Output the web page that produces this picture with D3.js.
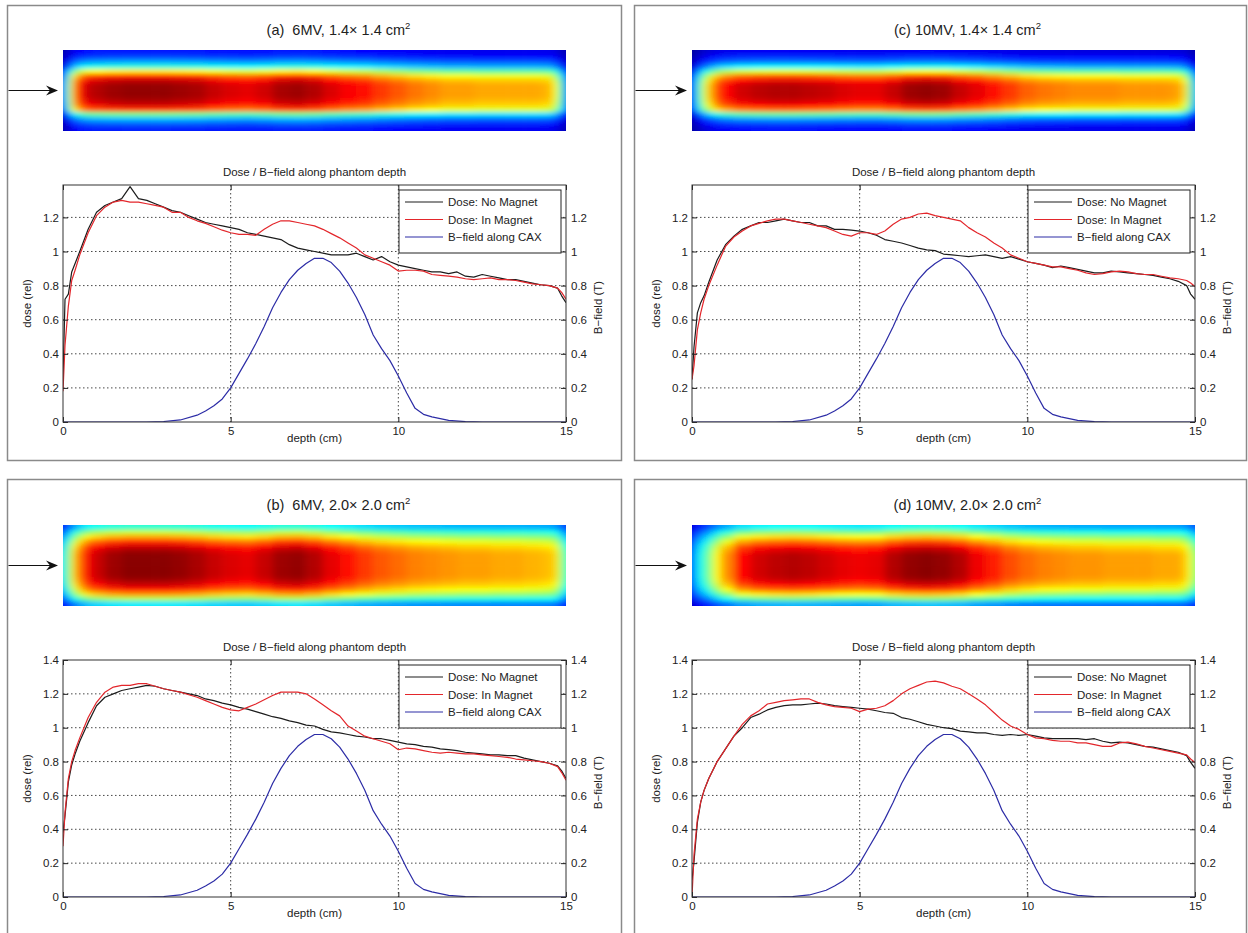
<!DOCTYPE html>
<html lang="en">
<head>
<meta charset="UTF-8">
<title>Dose / B-field along phantom depth</title>
<script src="https://cdnjs.cloudflare.com/ajax/libs/d3/7.9.0/d3.min.js"></script>
<style>
  body { margin: 0; background: #fff; }
  svg text { font-family: "Liberation Sans", Arial, sans-serif; fill: #222; }
</style>
</head>
<body>
<svg id="chart" width="1248" height="933"></svg>
<script>
// depth samples (cm) of the measured dose curves
const depth = [0, 0.06, 0.16, 0.26, 0.36, 0.5,
  0.75, 1, 1.25, 1.5, 1.75, 2, 2.25, 2.5, 2.75, 3,
  3.25, 3.5, 3.75, 4, 4.25, 4.5, 4.75, 5, 5.25, 5.5,
  5.75, 6, 6.25, 6.5, 6.75, 7, 7.25, 7.5, 7.75, 8,
  8.25, 8.5, 8.75, 9, 9.25, 9.5, 9.75, 10, 10.25, 10.5,
  10.75, 11, 11.25, 11.5, 11.75, 12, 12.25, 12.5, 12.75, 13,
  13.25, 13.5, 13.75, 14, 14.25, 14.5, 14.75,
  14.87, 15];

// (a) 6MV 1.4x1.4
const noMagnetA = [0.25, 0.72, 0.75, 0.88, 0.93, 1.00,
  1.13, 1.23, 1.27, 1.29, 1.31, 1.38, 1.31, 1.30, 1.28, 1.26,
  1.24, 1.23, 1.21, 1.19, 1.17, 1.16, 1.15, 1.14, 1.13, 1.11,
  1.10, 1.09, 1.08, 1.07, 1.04, 1.02, 1.01, 1.00, 0.99, 0.98,
  0.98, 0.98, 0.99, 0.97, 0.95, 0.97, 0.94, 0.92, 0.91, 0.90,
  0.89, 0.88, 0.88, 0.87, 0.88, 0.855, 0.85, 0.865, 0.855, 0.845,
  0.835, 0.835, 0.825, 0.815, 0.805, 0.80, 0.785,
  0.74, 0.70];
const inMagnetA = [0.18, 0.45, 0.68, 0.83, 0.89, 0.98,
  1.11, 1.21, 1.26, 1.29, 1.30, 1.29, 1.29, 1.28, 1.27, 1.26,
  1.23, 1.23, 1.20, 1.18, 1.165, 1.145, 1.125, 1.11, 1.10, 1.10,
  1.095, 1.13, 1.16, 1.18, 1.18, 1.17, 1.16, 1.15, 1.13, 1.105,
  1.08, 1.05, 1.02, 0.98, 0.96, 0.94, 0.92, 0.885, 0.89, 0.89,
  0.885, 0.865, 0.86, 0.855, 0.85, 0.84, 0.835, 0.84, 0.845, 0.835,
  0.835, 0.83, 0.82, 0.81, 0.805, 0.80, 0.785,
  0.76, 0.72];

// (b) 6MV 2.0x2.0
const noMagnetB = [0.38, 0.48, 0.68, 0.78, 0.845, 0.92,
  1.03, 1.13, 1.18, 1.20, 1.22, 1.23, 1.24, 1.25, 1.245, 1.23,
  1.22, 1.21, 1.20, 1.19, 1.17, 1.16, 1.145, 1.135, 1.12, 1.11,
  1.095, 1.08, 1.065, 1.055, 1.04, 1.03, 1.015, 1.01, 0.99, 0.975,
  0.97, 0.96, 0.95, 0.945, 0.935, 0.935, 0.925, 0.915, 0.905, 0.90,
  0.89, 0.885, 0.875, 0.87, 0.865, 0.855, 0.85, 0.845, 0.84, 0.84,
  0.835, 0.835, 0.82, 0.81, 0.80, 0.79, 0.775,
  0.745, 0.70];
const inMagnetB = [0.30, 0.50, 0.70, 0.80, 0.865, 0.94,
  1.06, 1.15, 1.21, 1.24, 1.25, 1.25, 1.26, 1.26, 1.245, 1.23,
  1.22, 1.21, 1.195, 1.18, 1.16, 1.14, 1.12, 1.105, 1.10, 1.12,
  1.14, 1.165, 1.19, 1.21, 1.21, 1.21, 1.20, 1.17, 1.135, 1.10,
  1.07, 1.01, 0.98, 0.95, 0.935, 0.92, 0.905, 0.87, 0.88, 0.875,
  0.865, 0.855, 0.85, 0.855, 0.85, 0.845, 0.845, 0.84, 0.835, 0.83,
  0.825, 0.815, 0.81, 0.805, 0.80, 0.79, 0.77,
  0.735, 0.69];

// (c) 10MV 1.4x1.4
const noMagnetC = [0.25, 0.44, 0.64, 0.70, 0.74, 0.82,
  0.95, 1.04, 1.09, 1.13, 1.15, 1.17, 1.17, 1.18, 1.19, 1.18,
  1.17, 1.17, 1.15, 1.15, 1.13, 1.13, 1.125, 1.12, 1.11, 1.095,
  1.07, 1.06, 1.05, 1.035, 1.02, 1.01, 1.005, 0.985, 0.98, 0.975,
  0.97, 0.975, 0.98, 0.97, 0.96, 0.97, 0.955, 0.94, 0.93, 0.92,
  0.905, 0.915, 0.905, 0.895, 0.885, 0.875, 0.875, 0.885, 0.88, 0.875,
  0.87, 0.865, 0.86, 0.85, 0.84, 0.825, 0.80,
  0.75, 0.72];
const inMagnetC = [0.25, 0.33, 0.54, 0.64, 0.72, 0.80,
  0.92, 1.03, 1.085, 1.12, 1.15, 1.165, 1.18, 1.19, 1.19, 1.18,
  1.17, 1.16, 1.15, 1.14, 1.12, 1.10, 1.09, 1.11, 1.11, 1.10,
  1.12, 1.16, 1.19, 1.20, 1.22, 1.225, 1.21, 1.20, 1.19, 1.18,
  1.14, 1.11, 1.085, 1.05, 1.02, 0.98, 0.96, 0.94, 0.93, 0.92,
  0.91, 0.91, 0.90, 0.89, 0.875, 0.865, 0.87, 0.88, 0.885, 0.88,
  0.87, 0.865, 0.865, 0.855, 0.845, 0.84, 0.83,
  0.815, 0.795];

// (d) 10MV 2.0x2.0
const noMagnetD = [0.10, 0.21, 0.44, 0.56, 0.63, 0.70,
  0.80, 0.875, 0.95, 1.00, 1.06, 1.08, 1.105, 1.12, 1.13, 1.135,
  1.135, 1.14, 1.145, 1.14, 1.13, 1.125, 1.12, 1.115, 1.11, 1.10,
  1.09, 1.085, 1.06, 1.05, 1.035, 1.02, 1.01, 1.00, 0.995, 0.98,
  0.975, 0.97, 0.97, 0.96, 0.955, 0.96, 0.955, 0.96, 0.95, 0.94,
  0.935, 0.935, 0.935, 0.935, 0.93, 0.935, 0.92, 0.91, 0.915, 0.91,
  0.90, 0.89, 0.885, 0.875, 0.865, 0.855, 0.835,
  0.795, 0.76];
const inMagnetD = [0.0, 0.25, 0.46, 0.56, 0.63, 0.70,
  0.80, 0.875, 0.95, 1.02, 1.07, 1.10, 1.14, 1.15, 1.16, 1.165,
  1.17, 1.17, 1.15, 1.135, 1.125, 1.12, 1.115, 1.095, 1.11, 1.115,
  1.13, 1.16, 1.20, 1.23, 1.25, 1.27, 1.275, 1.265, 1.245, 1.23,
  1.20, 1.17, 1.135, 1.09, 1.045, 1.01, 0.99, 0.96, 0.94, 0.935,
  0.925, 0.92, 0.92, 0.91, 0.91, 0.90, 0.89, 0.89, 0.91, 0.915,
  0.905, 0.89, 0.88, 0.87, 0.86, 0.85, 0.84,
  0.815, 0.795];

// magnetic field along the central axis (T), same in every panel
const bDepth = [0, 2.5, 3.0, 3.5, 4.0,
  4.25, 4.5, 4.75, 5.0, 5.25, 5.5, 5.75, 6.0, 6.25, 6.5, 6.75, 7.0, 7.25, 7.5,
  7.75, 8.0, 8.25, 8.5, 8.75, 9.0, 9.25, 9.5, 9.75, 10.0, 10.25, 10.5, 10.75,
  11.0, 11.5, 12.0, 12.5, 15];
const bField = [0, 0, 0.003, 0.012, 0.04,
  0.065, 0.095, 0.135, 0.2, 0.285, 0.37, 0.46, 0.56, 0.67, 0.76, 0.835, 0.89, 0.93, 0.96,
  0.96, 0.935, 0.885, 0.815, 0.73, 0.63, 0.51, 0.43, 0.36, 0.27, 0.17, 0.08, 0.045,
  0.03, 0.01, 0.002, 0, 0];

// film images: colour level (jet, 0-1) along the beam axis, and across the beam
const filmDepth = [0, 0.1, 0.2, 0.35, 0.5, 0.75, 1,
  1.5, 2, 2.5, 3, 3.5, 4, 4.5, 5, 5.5, 6, 6.5, 7, 7.5, 8, 8.5, 9, 9.5, 10,
  10.5, 11, 11.5, 12, 12.5, 13, 13.5, 14, 14.5,
  14.7, 14.85, 15];
const filmA = [0.2, 0.38, 0.56, 0.75, 0.86, 0.93, 0.95,
  0.97, 0.98, 0.98, 0.98, 0.97, 0.96, 0.93, 0.91, 0.9, 0.92, 0.96, 0.97, 0.95, 0.91, 0.88, 0.86, 0.82, 0.79,
  0.76, 0.74, 0.72, 0.72, 0.71, 0.71, 0.71, 0.71, 0.70,
  0.62, 0.45, 0.25];
const filmB = [0.35, 0.45, 0.55, 0.68, 0.78, 0.88, 0.93,
  0.97, 0.99, 0.99, 0.99, 0.98, 0.96, 0.93, 0.91, 0.9, 0.93, 0.97, 0.98, 0.95, 0.9, 0.86, 0.82, 0.79, 0.77,
  0.75, 0.74, 0.73, 0.72, 0.72, 0.71, 0.71, 0.70, 0.69,
  0.66, 0.55, 0.42];
const filmC = [0.15, 0.3, 0.42, 0.57, 0.68, 0.8, 0.87,
  0.92, 0.94, 0.95, 0.95, 0.94, 0.93, 0.91, 0.9, 0.9, 0.93, 0.97, 0.98, 0.97, 0.93, 0.9, 0.86, 0.82, 0.78,
  0.76, 0.75, 0.74, 0.74, 0.74, 0.73, 0.73, 0.73, 0.72,
  0.66, 0.5, 0.3];
const filmD = [0.2, 0.3, 0.37, 0.42, 0.5, 0.63, 0.74,
  0.87, 0.92, 0.94, 0.95, 0.94, 0.92, 0.9, 0.89, 0.9, 0.95, 0.98, 0.99, 0.98, 0.95, 0.89, 0.85, 0.8, 0.77,
  0.75, 0.74, 0.73, 0.73, 0.72, 0.72, 0.72, 0.71, 0.71,
  0.68, 0.62, 0.5];
const lateralA = [0.15, 0.2, 0.3, 0.42, 0.66, 0.86, 0.96, 1, 1, 1, 0.98, 0.94, 0.84, 0.5, 0.32, 0.22, 0.16];
const lateralB = [0.42, 0.58, 0.72, 0.84, 0.93, 0.98, 1, 1, 1, 1, 1, 0.98, 0.94, 0.86, 0.74, 0.56, 0.36];
const lateralC = [0.12, 0.18, 0.26, 0.4, 0.63, 0.84, 0.95, 1, 1, 1, 0.98, 0.93, 0.82, 0.5, 0.3, 0.2, 0.14];
const lateralD = [0.4, 0.55, 0.7, 0.82, 0.92, 0.97, 1, 1, 1, 1, 1, 0.98, 0.93, 0.84, 0.7, 0.52, 0.32];

const doseTicks = [0, 0.2, 0.4, 0.6, 0.8, 1, 1.2, 1.4];
const depthTicks = [0, 5, 10, 15];
const legendNames = ["Dose: No Magnet", "Dose: In Magnet", "B\u2212field along CAX"];
const titles = ["(a)  6MV, 1.4\u00d7 1.4 cm", "(b)  6MV, 2.0\u00d7 2.0 cm",
                "(c) 10MV, 1.4\u00d7 1.4 cm", "(d) 10MV, 2.0\u00d7 2.0 cm"];

const colors = { noMag: "#1c1c1c", inMag: "#e3262b", bField: "#2c2ca6" };

const panels = [
  { t: titles[0], col: 0, row: 0, yMax: 1.39, noMag: noMagnetA, inMag: inMagnetA, film: filmA, lateral: lateralA },
  { t: titles[1], col: 0, row: 1, yMax: 1.4,  noMag: noMagnetB, inMag: inMagnetB, film: filmB, lateral: lateralB },
  { t: titles[2], col: 1, row: 0, yMax: 1.39, noMag: noMagnetC, inMag: inMagnetC, film: filmC, lateral: lateralC },
  { t: titles[3], col: 1, row: 1, yMax: 1.4,  noMag: noMagnetD, inMag: inMagnetD, film: filmD, lateral: lateralD }
];

// jet colormap
const jet = d3.scaleLinear()
  .domain([0, 0.125, 0.375, 0.625, 0.875, 1])
  .range(["#00008f", "#0000ff", "#00ffff", "#ffff00", "#ff0000", "#800000"])
  .clamp(true);

const svg = d3.select("#chart");
const defs = svg.append("defs");
defs.append("filter").attr("id", "soften")
  .attr("x", "-5%").attr("y", "-20%").attr("width", "110%").attr("height", "140%")
  .append("feGaussianBlur").attr("stdDeviation", "4 2");

const colX = [[63, 566], [692, 1195]];
const frameX = [[7.5, 614], [634.5, 612]];
const rowDy = [0, 475];

panels.forEach((p, k) => {
  const dy = rowDy[p.row];
  const [x0, x1] = colX[p.col];
  const plotTop = 185 + dy, plotBot = 422 + dy;
  const heatTop = 50 + dy, heatBot = 131 + dy;
  const g = svg.append("g");

  // panel frame
  g.append("rect")
    .attr("x", frameX[p.col][0]).attr("y", 5.5 + dy + (p.row ? -1 : 0))
    .attr("width", frameX[p.col][1]).attr("height", p.row ? 480 : 455)
    .attr("fill", "none").attr("stroke", "#8a8a8a").attr("stroke-width", 1.5);

  const x = d3.scaleLinear().domain([0, 15]).range([x0, x1]);
  const yTop = p.row ? 660 - 475 + dy : plotTop;
  const y = d3.scaleLinear().domain([0, p.yMax]).range([plotBot, yTop]);
  const yB = d3.scaleLinear().domain([0, p.yMax]).range([plotBot, yTop]);

  // title
  const title = g.append("text")
    .attr("x", (x0 + x1) / 2 + 24).attr("y", 35 + dy)
    .attr("text-anchor", "middle").attr("font-size", 14.5)
    .style("white-space", "pre");
  title.append("tspan").text(p.t);
  title.append("tspan").attr("font-size", 9.5).attr("dy", -6).text("2");

  // film image
  const clipId = "heat" + k;
  defs.append("clipPath").attr("id", clipId).append("rect")
    .attr("x", x0).attr("y", heatTop).attr("width", x1 - x0).attr("height", heatBot - heatTop);
  const edges = filmDepth.map((d, i) => i === 0 ? -0.4 : (filmDepth[i - 1] + d) / 2).concat([15.4]);
  const rowY = d3.scaleLinear().domain([0, p.lateral.length]).range([heatTop, heatBot]);
  const cells = [];
  p.film.forEach((v, i) => p.lateral.forEach((l, j) => cells.push({ i, j, v: v * l })));
  g.append("g").attr("clip-path", `url(#${clipId})`)
    .append("g").attr("filter", "url(#soften)")
    .selectAll("rect").data(cells).join("rect")
    .attr("x", d => x(edges[d.i]))
    .attr("width", d => x(edges[d.i + 1]) - x(edges[d.i]) + 0.6)
    .attr("y", d => d.j === 0 ? rowY(d.j) - 8 : rowY(d.j))
    .attr("height", d => (rowY(d.j + 1) - rowY(d.j)) + 0.6 + (d.j === 0 || d.j === p.lateral.length - 1 ? 8 : 0))
    .attr("fill", d => jet(d.v));

  // beam arrow
  const ay = (heatTop + heatBot) / 2;
  const tip = x0 - 5;
  g.append("line").attr("x1", frameX[p.col][0] + 1).attr("x2", tip - 6)
    .attr("y1", ay).attr("y2", ay).attr("stroke", "#111").attr("stroke-width", 1.2);
  g.append("path")
    .attr("d", `M${tip},${ay} L${tip - 12},${ay - 5} L${tip - 8},${ay} L${tip - 12},${ay + 5} Z`)
    .attr("fill", "#111");

  // subtitle
  g.append("text").attr("x", (x0 + x1) / 2).attr("y", 176 + dy)
    .attr("text-anchor", "middle").attr("font-size", 11.5)
    .text("Dose / B\u2212field along phantom depth");

  // grid
  const yt = doseTicks.filter(t => t <= p.yMax + 1e-9);
  g.append("g").selectAll("line").data(yt.filter(t => t > 0 && t < 1.39))
    .join("line")
    .attr("x1", x0).attr("x2", x1).attr("y1", d => y(d)).attr("y2", d => y(d))
    .attr("stroke", "#333").attr("stroke-width", 0.9).attr("stroke-dasharray", "1.5,2.5");
  g.append("g").selectAll("line").data([5, 10])
    .join("line")
    .attr("x1", d => x(d)).attr("x2", d => x(d)).attr("y1", yTop).attr("y2", plotBot)
    .attr("stroke", "#333").attr("stroke-width", 0.9).attr("stroke-dasharray", "1.5,2.5");

  // curves
  const plotClip = "plot" + k;
  defs.append("clipPath").attr("id", plotClip).append("rect")
    .attr("x", x0).attr("y", yTop).attr("width", x1 - x0).attr("height", plotBot - yTop);
  const line = d3.line().x(d => x(d[0])).y(d => y(d[1]));
  const lineB = d3.line().x(d => x(d[0])).y(d => yB(d[1]));
  const curves = g.append("g").attr("clip-path", `url(#${plotClip})`).attr("fill", "none")
    .attr("stroke-width", 1.2).attr("stroke-linejoin", "round");
  curves.append("path").attr("d", line(d3.zip(depth, p.noMag))).attr("stroke", colors.noMag);
  curves.append("path").attr("d", line(d3.zip(depth, p.inMag))).attr("stroke", colors.inMag);
  curves.append("path").attr("d", lineB(d3.zip(bDepth, bField))).attr("stroke", colors.bField);

  // axes
  const styleAxis = sel => {
    sel.select(".domain").remove();
    sel.attr("font-family", null).attr("font-size", 11.5).attr("color", "#222");
    sel.selectAll(".tick line").attr("stroke-width", 1);
  };
  g.append("g").attr("transform", `translate(${x0},0)`)
    .call(d3.axisLeft(y).tickValues(yt).tickSize(-5).tickPadding(4).tickFormat(d => String(d)))
    .call(styleAxis);
  g.append("g").attr("transform", `translate(${x1},0)`)
    .call(d3.axisRight(yB).tickValues(yt).tickSize(-5).tickPadding(5).tickFormat(d => String(d)))
    .call(styleAxis);
  g.append("g").attr("transform", `translate(0,${plotBot})`)
    .call(d3.axisBottom(x).tickValues(depthTicks).tickSize(-5).tickPadding(5).tickFormat(d3.format("d")))
    .call(styleAxis);
  g.append("g").attr("transform", `translate(0,${yTop})`)
    .call(d3.axisTop(x).tickValues(depthTicks).tickSize(-5).tickFormat(""))
    .call(styleAxis);

  // axes box
  g.append("rect").attr("x", x0).attr("y", yTop).attr("width", x1 - x0).attr("height", plotBot - yTop)
    .attr("fill", "none").attr("stroke", "#333").attr("stroke-width", 1);

  // axis labels
  g.append("text").attr("x", (x0 + x1) / 2).attr("y", plotBot + 20)
    .attr("text-anchor", "middle").attr("font-size", 11.5).text("depth (cm)");
  g.append("text").attr("transform", `translate(${x0 - 32},${(yTop + plotBot) / 2}) rotate(-90)`)
    .attr("text-anchor", "middle").attr("font-size", 11.5).text("dose (rel)");
  g.append("text").attr("transform", `translate(${x1 + 36},${(yTop + plotBot) / 2 + 4}) rotate(-90)`)
    .attr("text-anchor", "middle").attr("font-size", 11.5).text("B\u2212field (T)");

  // legend
  const lx = x1 - 167, ly = yTop + 5;
  const lg = g.append("g").attr("transform", `translate(${lx},${ly})`);
  lg.append("rect").attr("width", 162).attr("height", 63)
    .attr("fill", "#fff").attr("stroke", "#222").attr("stroke-width", 1);
  const entries = lg.selectAll("g").data(legendNames).join("g")
    .attr("transform", (d, i) => `translate(0,${12 + i * 17.5})`);
  entries.append("line").attr("x1", 6).attr("x2", 44).attr("stroke-width", 1.2)
    .attr("stroke", (d, i) => [colors.noMag, colors.inMag, colors.bField][i]);
  entries.append("text").attr("x", 49).attr("y", 4).attr("font-size", 11.5).text(d => d);
});
</script>
</body>
</html>
